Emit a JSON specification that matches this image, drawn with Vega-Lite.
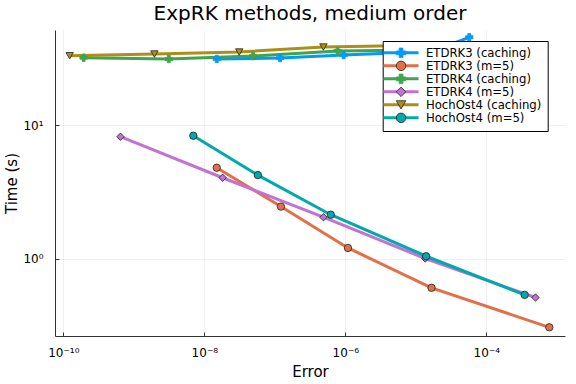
{
  "$schema": "https://vega.github.io/schema/vega-lite/v6.json",
  "width": 510,
  "height": 306,
  "autosize": {"type": "none"},
  "padding": {"left": 55, "top": 30, "right": 11, "bottom": 48},
  "background": "white",
  "title": {"text": "ExpRK methods, medium order", "fontSize": 20, "font": "DejaVu Sans", "fontWeight": "normal", "baseline": "alphabetic", "offset": 9, "dy": 19, "anchor": "middle", "color": "black"},
  "config": {
    "font": "DejaVu Sans",
    "view": {"stroke": null},
    "axis": {
      "domainColor": "#333333",
      "domainWidth": 1,
      "gridColor": "#000000",
      "gridOpacity": 0.1,
      "gridWidth": 0.6,
      "tickColor": "#333333",
      "tickSize": -4,
      "labelFont": "DejaVu Sans",
      "labelFontSize": 12,
      "labelColor": "black",
      "titleFont": "DejaVu Sans",
      "titleFontSize": 15,
      "titleFontWeight": "normal",
      "titleColor": "black"
    }
  },
  "data": {"values": [
    {"method": "ETDRK3 (caching)", "error": 1.50e-8, "time": 31.3},
    {"method": "ETDRK3 (caching)", "error": 1.19e-7, "time": 31.8},
    {"method": "ETDRK3 (caching)", "error": 9.46e-7, "time": 33.5},
    {"method": "ETDRK3 (caching)", "error": 1.67e-5, "time": 35.6},
    {"method": "ETDRK3 (caching)", "error": 5.73e-5, "time": 45.5},
    {"method": "ETDRK3 (m=5)", "error": 1.50e-8, "time": 4.79},
    {"method": "ETDRK3 (m=5)", "error": 1.22e-7, "time": 2.45},
    {"method": "ETDRK3 (m=5)", "error": 1.09e-6, "time": 1.20},
    {"method": "ETDRK3 (m=5)", "error": 1.67e-5, "time": 0.603},
    {"method": "ETDRK3 (m=5)", "error": 7.82e-4, "time": 0.305},
    {"method": "ETDRK4 (caching)", "error": 1.94e-10, "time": 32.0},
    {"method": "ETDRK4 (caching)", "error": 3.13e-9, "time": 31.3},
    {"method": "ETDRK4 (caching)", "error": 4.92e-8, "time": 32.9},
    {"method": "ETDRK4 (caching)", "error": 7.76e-7, "time": 35.9},
    {"method": "ETDRK4 (caching)", "error": 1.26e-5, "time": 36.5},
    {"method": "ETDRK4 (m=5)", "error": 6.46e-10, "time": 8.18},
    {"method": "ETDRK4 (m=5)", "error": 1.82e-8, "time": 4.03},
    {"method": "ETDRK4 (m=5)", "error": 4.89e-7, "time": 2.04},
    {"method": "ETDRK4 (m=5)", "error": 1.36e-5, "time": 1.0},
    {"method": "ETDRK4 (m=5)", "error": 4.98e-4, "time": 0.51},
    {"method": "HochOst4 (caching)", "error": 1.23e-10, "time": 33.1},
    {"method": "HochOst4 (caching)", "error": 1.96e-9, "time": 34.1},
    {"method": "HochOst4 (caching)", "error": 3.13e-8, "time": 35.3},
    {"method": "HochOst4 (caching)", "error": 4.89e-7, "time": 38.5},
    {"method": "HochOst4 (caching)", "error": 7.9e-6, "time": 39.5},
    {"method": "HochOst4 (m=5)", "error": 6.98e-9, "time": 8.32},
    {"method": "HochOst4 (m=5)", "error": 5.74e-8, "time": 4.22},
    {"method": "HochOst4 (m=5)", "error": 6.22e-7, "time": 2.13},
    {"method": "HochOst4 (m=5)", "error": 1.40e-5, "time": 1.04},
    {"method": "HochOst4 (m=5)", "error": 3.50e-4, "time": 0.534}
  ]},
  "encoding": {
    "x": {
      "field": "error", "type": "quantitative",
      "scale": {"type": "log", "domain": [7.62e-11, 1.306e-3], "nice": false},
      "axis": {
        "title": "Error",
        "values": [1e-10, 1e-8, 1e-6, 1e-4],
        "labelExpr": "'10' + replace(replace(replace(replace(replace(replace(replace('' + round(log(datum.value)/LN10), '-', '⁻'), '1', '¹'), '0', '⁰'), '8', '⁸'), '6', '⁶'), '4', '⁴'), '2', '²')",
        "labelPadding": 15,
        "titleBaseline": "alphabetic",
        "titleY": 40.5
      }
    },
    "y": {
      "field": "time", "type": "quantitative",
      "scale": {"type": "log", "domain": [0.2626, 51.6], "nice": false},
      "axis": {
        "title": "Time (s)",
        "values": [1, 10],
        "labelExpr": "'10' + replace(replace('' + round(log(datum.value)/LN10), '1', '¹'), '0', '⁰')",
        "labelPadding": 16,
        "titleBaseline": "alphabetic",
        "titleX": -38.5,
        "titleY": 153
      }
    }
  },
  "layer": [
    {
      "mark": {"type": "line", "strokeWidth": 3},
      "encoding": {
        "color": {
          "field": "method", "type": "nominal",
          "scale": {
            "domain": ["ETDRK3 (caching)", "ETDRK3 (m=5)", "ETDRK4 (caching)", "ETDRK4 (m=5)", "HochOst4 (caching)", "HochOst4 (m=5)"],
            "range": ["#009AFA", "#E36F47", "#3EA44E", "#C371D2", "#AC8E18", "#00A9AD"]
          },
          "legend": {
            "title": null,
            "orient": "none",
            "legendX": 327.7,
            "legendY": 11,
            "padding": 6,
            "strokeColor": "black",
            "fillColor": "white",
            "symbolType": "M-4.375,0H4.375",
            "symbolStrokeWidth": 3,
            "symbolSize": 64,
            "symbolOffset": 6.5,
            "labelFontSize": 11.7,
            "labelFont": "DejaVu Sans",
            "labelColor": "black",
            "labelOffset": 19,
            "rowPadding": -1.5
          }
        }
      }
    },
    {
      "mark": {"type": "point", "filled": true, "opacity": 1, "strokeWidth": 0.8, "size": 55},
      "encoding": {
        "fill": {
          "field": "method", "type": "nominal",
          "scale": {
            "domain": ["ETDRK3 (caching)", "ETDRK3 (m=5)", "ETDRK4 (caching)", "ETDRK4 (m=5)", "HochOst4 (caching)", "HochOst4 (m=5)"],
            "range": ["#009AFA", "#E36F47", "#3EA44E", "#C371D2", "#AC8E18", "#00A9AD"]
          },
          "legend": {
            "title": null,
            "orient": "none",
            "legendX": 327.7,
            "legendY": 11,
            "padding": 6,
            "symbolStrokeWidth": 0.8,
            "symbolOpacity": 1,
            "symbolSize": 90,
            "symbolOffset": 6.5,
            "labelFontSize": 11.7,
            "labelFont": "DejaVu Sans",
            "labelExpr": "''",
            "labelOffset": 19,
            "rowPadding": -1.5
          }
        },
        "stroke": {
          "field": "method", "type": "nominal",
          "scale": {
            "domain": ["ETDRK3 (caching)", "ETDRK3 (m=5)", "ETDRK4 (caching)", "ETDRK4 (m=5)", "HochOst4 (caching)", "HochOst4 (m=5)"],
            "range": ["#009AFA", "#222222", "#3EA44E", "#222222", "#222222", "#222222"]
          }
        },
        "shape": {
          "field": "method", "type": "nominal",
          "scale": {
            "domain": ["ETDRK3 (caching)", "ETDRK3 (m=5)", "ETDRK4 (caching)", "ETDRK4 (m=5)", "HochOst4 (caching)", "HochOst4 (m=5)"],
            "range": ["cross", "circle", "cross", "diamond", "triangle-down", "circle"]
          }
        }
      }
    }
  ],
  "resolve": {
    "scale": {"fill": "independent", "stroke": "independent", "shape": "independent"},
    "legend": {"fill": "independent", "stroke": "independent", "shape": "independent"}
  }
}
